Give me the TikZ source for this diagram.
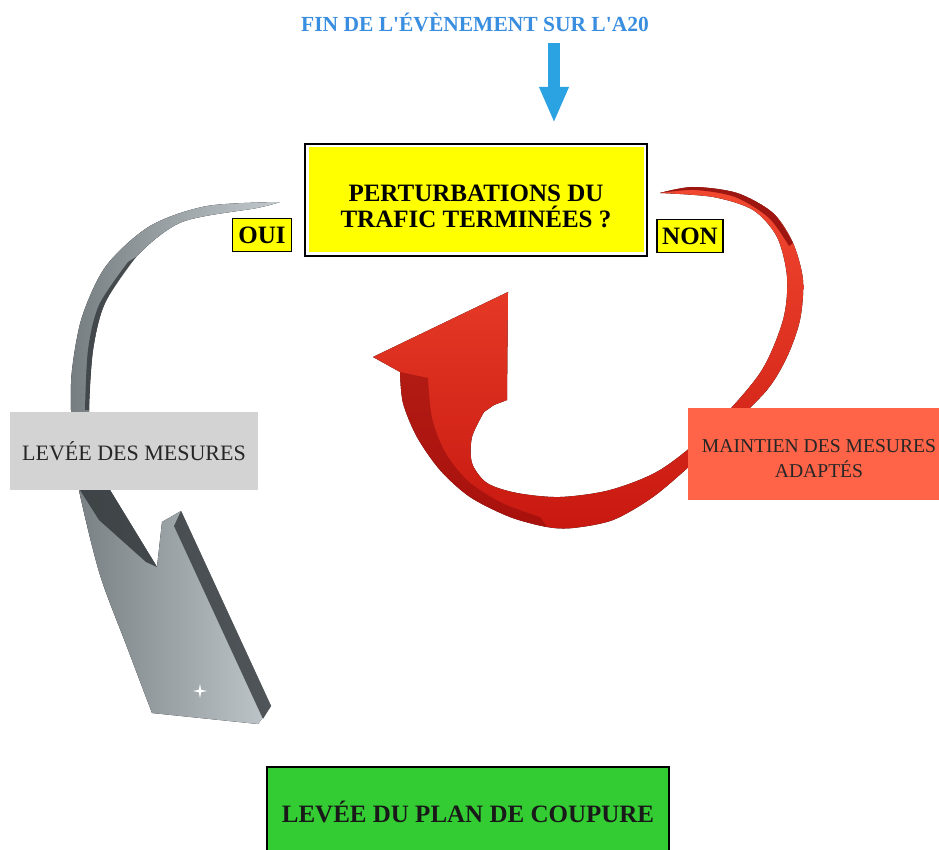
\documentclass[tikz,border=0pt]{standalone}
\usepackage{fontspec}
\setmainfont{Liberation Serif}
\usetikzlibrary{arrows.meta}
\definecolor{titleblue}{HTML}{3A8EE0}
\definecolor{arrowblue}{HTML}{2BA3E3}
\definecolor{qyellow}{HTML}{FFFF00}
\definecolor{boxgrey}{HTML}{D3D3D3}
\definecolor{boxred}{HTML}{FF6448}
\definecolor{boxgreen}{HTML}{33CC33}
\definecolor{redlight}{HTML}{F24830}
\definecolor{redmid}{HTML}{E42A1C}
\definecolor{redlow}{HTML}{C81810}
\definecolor{reddark}{HTML}{8A0A0A}
\definecolor{greylight}{HTML}{C2CACE}
\definecolor{greydark}{HTML}{767E82}
\definecolor{greyshadow}{HTML}{34393C}
\begin{document}
\begin{tikzpicture}[x=1pt,y=-1pt,
  titletext/.style={font=\bfseries\fontsize{21.5}{24}\selectfont, text=titleblue, inner sep=0pt},
  qbox/.style={fill=qyellow, minimum width=335pt, minimum height=105pt, align=center, inner sep=0pt,
    text height=56pt, text depth=0pt, font=\bfseries\fontsize{25}{26}\selectfont},
  ynbox/.style={fill=qyellow, draw=black, line width=1.5pt, inner sep=0pt, minimum height=33pt,
    font=\bfseries\fontsize{25}{26}\selectfont},
  greybox/.style={fill=boxgrey, minimum width=248pt, minimum height=78pt, inner sep=0pt,
    font=\fontsize{22}{24}\selectfont, text=black!85},
  redbox/.style={fill=boxred, minimum width=262pt, minimum height=92pt, align=center, inner sep=0pt,
    text height=46pt, text depth=0pt, font=\fontsize{19.6}{25}\selectfont, text=black!85},
  greenbox/.style={fill=boxgreen, draw=black, line width=1.2pt, minimum width=402pt, minimum height=100pt,
    inner sep=0pt, text height=10pt, text depth=0pt, font=\bfseries\fontsize{25}{26}\selectfont, text=black!90},
  greyarrow/.style={left color=greydark, right color=greylight},
  redarrow/.style={top color=redlight, middle color=redmid, bottom color=redlow},
  bluearrow/.style={draw=arrowblue, line width=12.5pt, -{Triangle[length=36pt,width=27pt]}}
]
\useasboundingbox (0,0) rectangle (939,850);
\fill[white] (0,0) rectangle (939,850);

% ---------- grey curved arrow (OUI) ----------
\coordinate (gstart) at (280,202);
\coordinate (gtip) at (258,724);
\fill[greyarrow]
  plot[smooth] coordinates {(280,202) (207,206) (150,226) (106,266) (82,317) (72,370) (71,410) (74,455) (80,495) (100,575) (127,647) (152,713)}
  -- (gtip) -- (271,706) -- (181,511) -- (162,522) -- (157,567)
  -- plot[smooth] coordinates {(110,490) (93,445) (89,410) (93,350) (105,303) (136,257) (182,222) (257,208) (280,202)}
  -- cycle;
% dark inner edge of the upper part
\fill[greyshadow, opacity=0.8]
  plot[smooth] coordinates {(136,257) (105,303) (93,350) (89,410)}
  -- plot[smooth] coordinates {(85,410) (88,350) (99,305) (128,262)}
  -- cycle;
% dark band under the grey label
\fill[greyshadow, opacity=0.85] (80,490) -- (110,490) -- (157,567) -- (146,562) -- (99,520) -- cycle;
% dark side of the head
\fill[greyshadow, opacity=0.8] (181,511) -- (271,706) -- (263,719) -- (174,526) -- cycle;
% sparkle
\fill[white] (200,684) -- (201.2,689.8) -- (207,691) -- (201.2,692.2) -- (200,698) -- (198.8,692.2) -- (193,691) -- (198.8,689.8) -- cycle;

% ---------- red curved arrow (NON) ----------
\coordinate (rstart) at (660,193);
\coordinate (rtip) at (508,292);
\fill[redarrow]
  plot[smooth] coordinates {(660,193) (693,187) (737,193) (773,213) (793,243) (803,280) (800,320) (787,357) (767,390) (727,430) (693,463) (653,497) (613,520) (573,528) (547,527) (510,517) (470,497) (440,470) (417,437) (403,403) (400,372)}
  -- (373,357) -- (rtip) -- (507,400) -- (494,405)
  -- plot[smooth] coordinates {(484,412) (472,437) (472,463) (487,483) (517,493) (560,497) (610,490) (660,470) (710,430) (760,373) (783,320) (787,277) (777,237) (753,210) (713,197) (660,193)}
  -- cycle;
% darker outer side on the left part of the loop
\fill[reddark, opacity=0.5]
  plot[smooth] coordinates {(400,372) (403,403) (417,437) (440,470) (470,497) (510,517) (547,527)}
  -- plot[smooth] coordinates {(540,517) (502,503) (468,481) (445,452) (432,418) (428,378)}
  -- cycle;
% dark top edge of the tail
\fill[reddark, opacity=0.8]
  plot[smooth] coordinates {(660,193) (693,187) (737,193) (773,213) (793,243)}
  -- plot[smooth] coordinates {(789,246) (769,218) (735,197) (695,190) (660,193)}
  -- cycle;

% ---------- boxes ----------
\node[titletext, anchor=base] (title) at (475,32) {FIN DE L\textquotesingle ÉVÈNEMENT SUR L\textquotesingle A20};
\node[qbox] (q) at (476,200) {PERTURBATIONS DU\\TRAFIC TERMINÉES ?};
\draw[line width=1.5pt] ([xshift=-3.5pt,yshift=3.5pt]q.north west) rectangle ([xshift=3.5pt,yshift=-3.5pt]q.south east);
\node[ynbox, minimum width=59pt] (oui) at (262,235) {OUI};
\node[ynbox, minimum width=66pt] (non) at (690,236) {NON};
\node[greybox] (levee) at (134,451) {LEVÉE DES MESURES};
\node[redbox] (maintien) at (819,454) {MAINTIEN DES MESURES\\ADAPTÉS};
\node[greenbox] (plan) at (468,817) {LEVÉE DU PLAN DE COUPURE};

% ---------- blue arrow into the question ----------
\coordinate (bstart) at (554,43);
\coordinate (bend) at (554,123);
\draw[bluearrow] (bstart) -- (bend);
\end{tikzpicture}
\end{document}
